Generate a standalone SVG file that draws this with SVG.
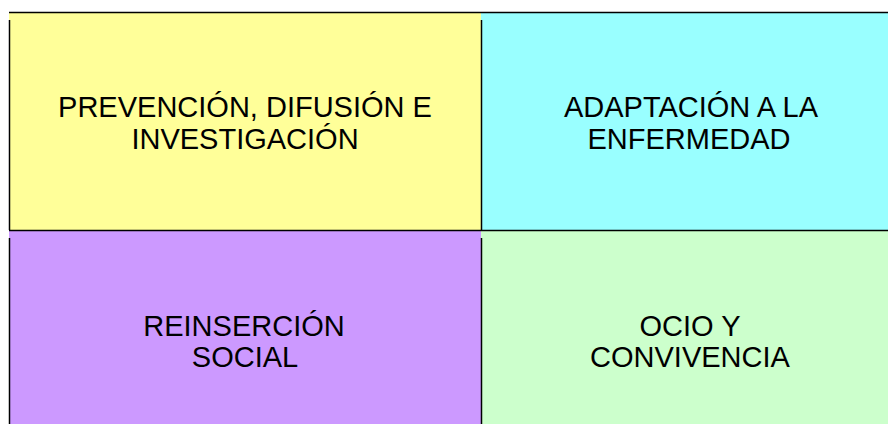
<svg xmlns="http://www.w3.org/2000/svg" width="888" height="424" viewBox="0 0 888 424">
<style>
.t{font-family:"Liberation Sans",Arial,sans-serif;font-size:29px;fill:#000;text-anchor:middle}
.ln{stroke:#000;stroke-width:1.5;fill:none}
</style>
<rect width="888" height="424" fill="#fff"/>
<g id="n1"><rect x="9" y="12" width="472" height="218" fill="#ffff99"/>
<text class="t" x="245" y="117">PREVENCIÓN, DIFUSIÓN E</text>
<text class="t" x="245" y="149">INVESTIGACIÓN</text></g>
<g id="n2"><rect x="481" y="12" width="407" height="218" fill="#99ffff"/>
<text class="t" x="691" y="117">ADAPTACIÓN A LA</text>
<text class="t" x="689" y="149">ENFERMEDAD</text></g>
<g id="n3"><rect x="9" y="230" width="472" height="194" fill="#cc99ff"/>
<text class="t" x="244" y="336">REINSERCIÓN</text>
<text class="t" x="245" y="367">SOCIAL</text></g>
<g id="n4"><rect x="481" y="230" width="407" height="194" fill="#ccffcc"/>
<text class="t" x="690" y="336">OCIO Y</text>
<text class="t" x="690" y="367">CONVIVENCIA</text></g>
<g id="connectors">
<line class="ln" x1="9" y1="12.5" x2="888" y2="12.5"/>
<line class="ln" x1="9" y1="230.5" x2="888" y2="230.5"/>
<line class="ln" x1="9.5" y1="20" x2="9.5" y2="230"/>
<line class="ln" x1="9.5" y1="238" x2="9.5" y2="424"/>
<line class="ln" x1="481.5" y1="20" x2="481.5" y2="230"/>
<line class="ln" x1="481.5" y1="238" x2="481.5" y2="424"/>
</g>
</svg>
